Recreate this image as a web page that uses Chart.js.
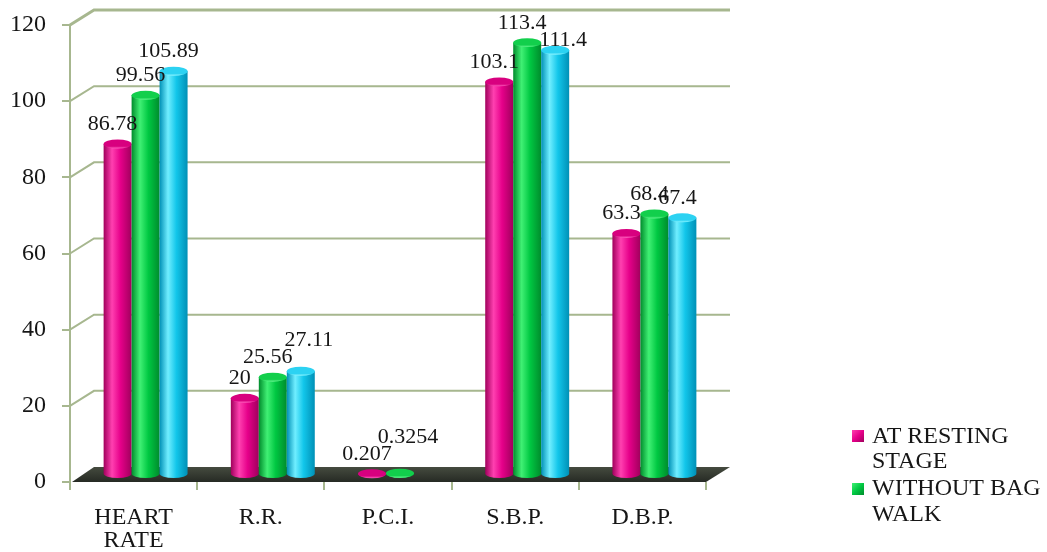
<!DOCTYPE html>
<html>
<head>
<meta charset="utf-8">
<script src="https://cdn.jsdelivr.net/npm/chart.js@4.4.1/dist/chart.umd.min.js"></script>
<style>
  html, body { margin: 0; padding: 0; background: #ffffff; }
  #wrap { width: 1047px; height: 552px; position: relative; }
  canvas { display: block; }
</style>
</head>
<body>
<div id="wrap"><canvas id="chart" width="1047" height="552"></canvas></div>
<script>
// Categories and series values
const categories = [['HEART', 'RATE'], 'R.R.', 'P.C.I.', 'S.B.P.', 'D.B.P.'];
const restingStage   = [86.78, 20, 0.207, 103.1, 63.3];
const withoutBagWalk = [99.56, 25.56, 0.3254, 113.4, 68.4];
const withBagWalk    = [105.89, 27.11, null, 111.4, 67.4];
const yTickValues    = [0, 20, 40, 60, 80, 100, 120];
const seriesNames    = ['AT RESTING STAGE', 'WITHOUT BAG WALK', 'WITH BAG WALK'];
const legendLines    = [['AT RESTING', 'STAGE'], ['WITHOUT BAG', 'WALK']];

// Styling
const SERIF = "'Liberation Serif', 'Times New Roman', serif";
const GRID = '#a7b78f';
const TEXT = '#161616';
const LABEL_SIZE = 22;
const DEPTH = { x: 24, y: -15 };          // back wall offset of the 3D box
const palette = [
  { dark: '#a0005c', base: '#e6008a', light: '#ff40b0', cap: '#d8007f', rim: '#ff62c0' },
  { dark: '#008c2c', base: '#00c842', light: '#40f074', cap: '#12cf4c', rim: '#66f590' },
  { dark: '#0090b6', base: '#12c6ea', light: '#70eeff', cap: '#2cd2f2', rim: '#8af4ff' }
];

// place value labels above their bars, moving a label clear of an earlier one
// in the same group when they would clearly collide
function placeLabels(ctx, labels) {
  const h = LABEL_SIZE * 0.68;
  const placed = [];
  labels.forEach(l => {
    l.w = ctx.measureText(l.text).width;
    for (let pass = 0; pass < 3; pass++) {
      const hit = placed.find(p => {
        if (p.c !== l.c) return false;
        const ox = Math.min(l.x + l.w / 2, p.x + p.w / 2) - Math.max(l.x - l.w / 2, p.x - p.w / 2);
        return ox > 16 && l.y - h < p.y && l.y > p.y - h;
      });
      if (!hit) break;
      const up = hit.y - h - 2;
      l.y = (up - h < 2) ? hit.y + h + 2 : up;
      l.x += 13;
    }
    placed.push(l);
  });
}

const scenePlugin = {
  id: 'scene3d',
  // back wall gridlines and dark floor
  beforeDatasetsDraw(chart) {
    const { ctx, chartArea: a, scales: { y } } = chart;
    ctx.save();
    ctx.strokeStyle = GRID;
    yTickValues.forEach(v => {
      if (v === 0) return;
      const py = y.getPixelForValue(v);
      ctx.lineWidth = v === yTickValues[yTickValues.length - 1] ? 3 : 2;
      ctx.beginPath();
      ctx.moveTo(a.left, py);
      ctx.lineTo(a.left + DEPTH.x, py + DEPTH.y);
      ctx.lineTo(a.right + DEPTH.x, py + DEPTH.y);
      ctx.stroke();
    });
    const fy = y.getPixelForValue(0);
    const g = ctx.createLinearGradient(0, fy + DEPTH.y, 0, fy);
    g.addColorStop(0, '#454b3f');
    g.addColorStop(1, '#262a24');
    ctx.fillStyle = g;
    ctx.beginPath();
    ctx.moveTo(a.left + 2, fy);
    ctx.lineTo(a.right, fy);
    ctx.lineTo(a.right + DEPTH.x, fy + DEPTH.y);
    ctx.lineTo(a.left + DEPTH.x, fy + DEPTH.y);
    ctx.closePath();
    ctx.fill();
    ctx.restore();
  },
  beforeDatasetDraw() {
    return false; // bars are drawn as cylinders below
  },
  afterDatasetsDraw(chart) {
    const ctx = chart.ctx;
    ctx.save();
    const n = chart.data.labels.length;
    const metas = chart.data.datasets.map((d, i) => chart.getDatasetMeta(i));
    const labels = [];
    for (let c = 0; c < n; c++) {
      metas.forEach((meta, s) => {
        const v = chart.data.datasets[s].data[c];
        const el = meta.data[c];
        if (v === null || v === undefined || !el || !isFinite(el.y)) return;
        const w = el.width;
        const rx = w / 2;
        const ry = w * 0.16;
        const cx = el.x + DEPTH.x / 2;
        const top = el.y + DEPTH.y / 2;
        const bottom = el.base + DEPTH.y / 2;
        const p = palette[s];
        // body
        const g = ctx.createLinearGradient(cx - rx, 0, cx + rx, 0);
        g.addColorStop(0, p.dark);
        g.addColorStop(0.3, p.light);
        g.addColorStop(0.6, p.base);
        g.addColorStop(1, p.dark);
        ctx.fillStyle = g;
        ctx.beginPath();
        ctx.moveTo(cx - rx, top);
        ctx.lineTo(cx - rx, bottom);
        ctx.ellipse(cx, bottom, rx, ry, 0, Math.PI, 0, true);
        ctx.lineTo(cx + rx, top);
        ctx.closePath();
        ctx.fill();
        // cap
        const cg = ctx.createLinearGradient(0, top - ry, 0, top + ry);
        cg.addColorStop(0, p.cap);
        cg.addColorStop(0.75, p.cap);
        cg.addColorStop(1, p.rim);
        ctx.fillStyle = cg;
        ctx.beginPath();
        ctx.ellipse(cx, top, rx, ry, 0, 0, Math.PI * 2);
        ctx.fill();
        labels.push({ c, text: String(v), x: cx - 5, y: top - 14 });
      });
    }
    ctx.font = LABEL_SIZE + 'px ' + SERIF;
    ctx.fillStyle = TEXT;
    ctx.textAlign = 'center';
    ctx.textBaseline = 'alphabetic';
    placeLabels(ctx, labels);
    labels.forEach(l => ctx.fillText(l.text, l.x, l.y));
    ctx.restore();
  },
  // legend for the first two series
  afterDraw(chart) {
    const ctx = chart.ctx;
    ctx.save();
    ctx.font = '24px ' + SERIF;
    ctx.textAlign = 'left';
    ctx.textBaseline = 'alphabetic';
    const entries = [
      { sq: 430, lines: [443, 468] },
      { sq: 483, lines: [495, 521] }
    ];
    legendLines.forEach((lines, i) => {
      const p = palette[i];
      const g = ctx.createLinearGradient(852, entries[i].sq, 864, entries[i].sq + 12);
      g.addColorStop(0, p.light);
      g.addColorStop(0.5, p.base);
      g.addColorStop(1, p.dark);
      ctx.fillStyle = g;
      ctx.fillRect(852, entries[i].sq, 12, 12);
      ctx.fillStyle = TEXT;
      lines.forEach((t, k) => ctx.fillText(t, 872, entries[i].lines[k]));
    });
    ctx.restore();
  }
};

new Chart(document.getElementById('chart'), {
  type: 'bar',
  data: {
    labels: categories,
    datasets: [
      { label: seriesNames[0], data: restingStage,   backgroundColor: palette[0].base },
      { label: seriesNames[1], data: withoutBagWalk, backgroundColor: palette[1].base },
      { label: seriesNames[2], data: withBagWalk,    backgroundColor: palette[2].base }
    ]
  },
  options: {
    responsive: false,
    devicePixelRatio: 1,
    animation: false,
    layout: { padding: { top: 25, right: 341, bottom: 0, left: 0 } },
    datasets: { bar: { categoryPercentage: 0.66, barPercentage: 1.0 } },
    plugins: { legend: { display: false }, tooltip: { enabled: false } },
    scales: {
      x: {
        type: 'category',
        offset: true,
        grid: { display: true, drawOnChartArea: false, offset: true, tickLength: 8, color: GRID, lineWidth: 2 },
        border: { display: false },
        ticks: { font: { family: SERIF, size: 24, lineHeight: 0.96 }, color: TEXT, padding: 16, maxRotation: 0, autoSkip: false },
        afterFit(scale) {
          scale.height = 70;
          scale.paddingLeft = 0;
          scale.paddingRight = 0;
        }
      },
      y: {
        min: 0,
        max: 120,
        afterBuildTicks(scale) { scale.ticks = yTickValues.map(v => ({ value: v })); },
        grid: { display: true, drawOnChartArea: false, tickLength: 8, color: GRID, lineWidth: 2 },
        border: { display: true, color: GRID, width: 2 },
        ticks: { font: { family: SERIF, size: 24 }, color: TEXT, padding: 16 },
        afterFit(scale) {
          scale.width = 70;
          scale.paddingTop = 0;
          scale.paddingBottom = 0;
        }
      }
    }
  },
  plugins: [scenePlugin]
});
</script>
</body>
</html>
